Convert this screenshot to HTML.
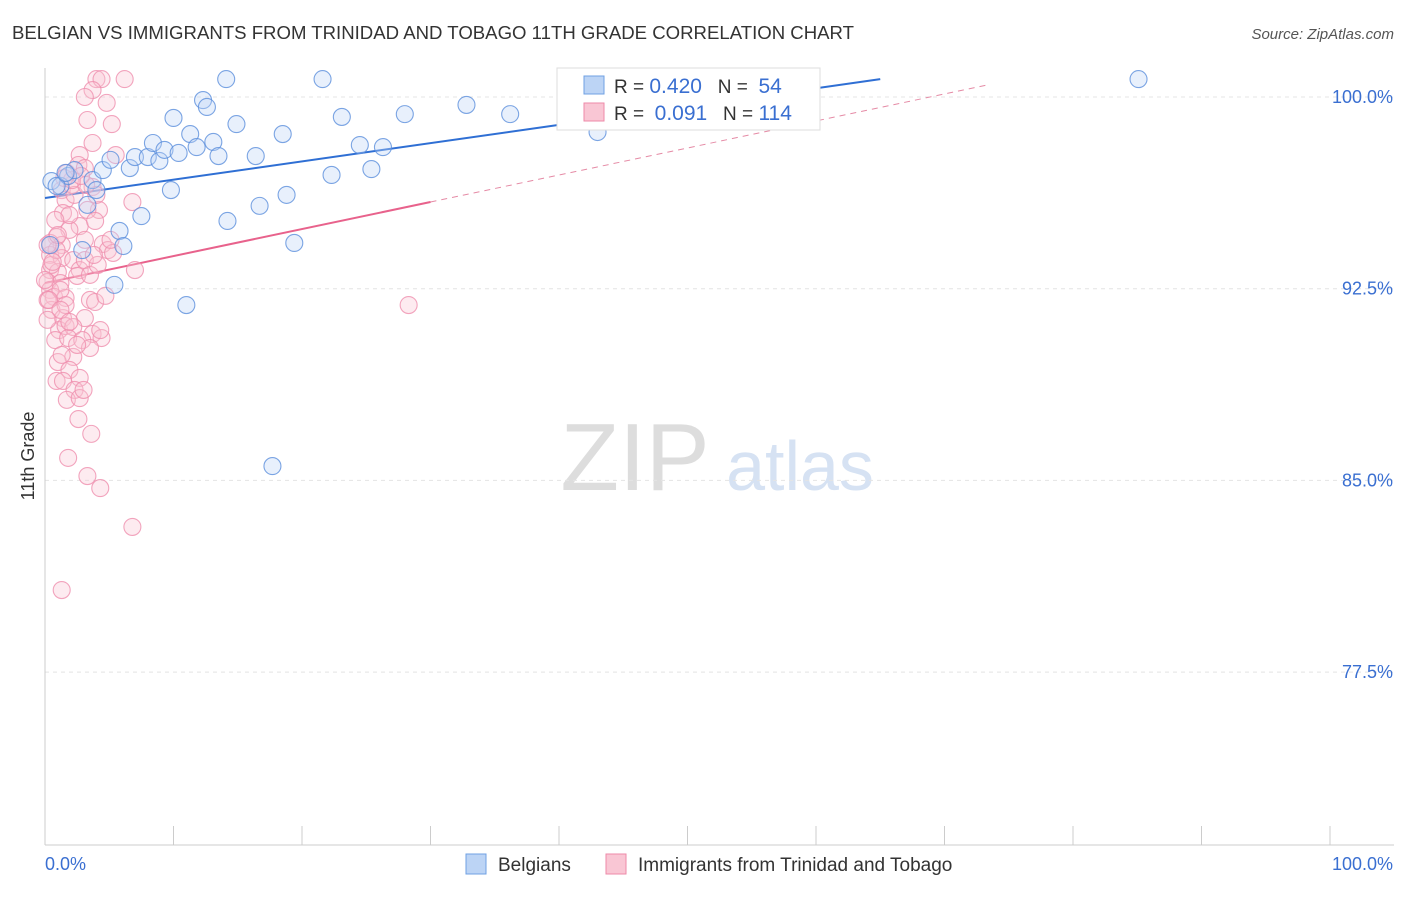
<!DOCTYPE html>
<html><head><meta charset="utf-8"><style>
body{margin:0;background:#fff;font-family:"Liberation Sans",sans-serif}
svg text{font-family:"Liberation Sans",sans-serif}
</style></head><body>
<svg id="c" width="1406" height="892">
<text x="12" y="39" font-size="18.6" fill="#333">BELGIAN VS IMMIGRANTS FROM TRINIDAD AND TOBAGO 11TH GRADE CORRELATION CHART</text>
<text x="1394" y="39" font-size="15" fill="#555" text-anchor="end" font-style="italic">Source: ZipAtlas.com</text>
<text x="34" y="456" font-size="18" fill="#333" text-anchor="middle" transform="rotate(-90 34 456)">11th Grade</text>
<g><text x="635" y="490" font-size="96" fill="#ddd" font-family="Liberation Serif" text-anchor="middle">ZIP</text><text x="800" y="490" font-size="70" fill="#d6e2f3" text-anchor="middle">atlas</text></g>
<g id="grid"></g><g id="axes"></g><g id="lines"></g><g id="pts"></g>
<g>
<rect x="557" y="68" width="263" height="62" fill="#fff" stroke="#ddd"/>
<rect x="584" y="76" width="20" height="18" fill="#bcd4f5" stroke="#6fa0e3"/>
<text x="614" y="93" font-size="19" fill="#333" xml:space="preserve">R = <tspan fill="#3a6fd1" font-size="21">0.420</tspan>   N =  <tspan fill="#3a6fd1" font-size="21">54</tspan></text>
<rect x="584" y="103" width="20" height="18" fill="#f9c6d4" stroke="#ee8aa8"/>
<text x="614" y="120" font-size="19" fill="#333" xml:space="preserve">R =  <tspan fill="#3a6fd1" font-size="21">0.091</tspan>   N = <tspan fill="#3a6fd1" font-size="21">114</tspan></text>
</g>
<g>
<rect x="466" y="854" width="20" height="20" fill="#bcd4f5" stroke="#6fa0e3"/>
<text x="498" y="871" font-size="19" fill="#333">Belgians</text>
<rect x="606" y="854" width="20" height="20" fill="#f9c6d4" stroke="#ee8aa8"/>
<text x="638" y="871" font-size="19" fill="#333">Immigrants from Trinidad and Tobago</text>
</g>
</svg>
<script>
const yTicks=[100,92.5,85,77.5];
const yTickLabels=["100.0%","92.5%","85.0%","77.5%"];
const xTicks=[0,10,20,30,40,50,60,70,80,90,100];
const blueX=[0.5,1.2,1.8,2.3,3.7,4.0,4.5,5.1,6.6,7.0,8.0,8.4,8.9,9.3,9.8,10.0,10.4,11.3,11.8,12.3,12.6,13.1,13.5,14.1,14.9,14.2,16.4,16.7,18.5,18.8,19.4,21.6,22.3,23.1,24.5,25.4,26.3,28.0,32.8,36.2,43.0,52.1,85.1,3.3,5.8,6.1,2.9,5.4,11.0,7.5,17.7,0.9,0.4,1.6];
const blueY=[96.71,96.52,96.91,97.14,96.75,96.36,97.14,97.54,97.22,97.65,97.65,98.20,97.50,97.93,96.36,99.18,97.81,98.55,98.04,99.88,99.61,98.24,97.69,100.70,98.94,95.15,97.69,95.74,98.55,96.17,94.29,100.70,96.95,99.22,98.12,97.18,98.04,99.33,99.69,99.33,98.63,100.70,100.70,95.78,94.76,94.17,94.01,92.65,91.86,95.34,85.56,96.52,94.21,97.03];
const pinkX=[4.0,4.4,6.2,3.7,3.1,4.8,5.2,3.3,3.7,2.7,5.5,1.7,2.6,3.1,1.3,2.1,3.7,1.6,4.2,6.8,1.4,3.3,2.7,3.9,1.9,3.1,0.9,0.4,1.3,4.5,4.9,5.3,0.4,1.3,2.2,2.7,7.0,0.4,1.0,0.2,1.2,2.5,0.4,0.7,1.6,3.5,3.9,4.7,0.5,1.4,3.1,1.1,1.6,2.2,3.7,4.4,0.8,1.8,2.9,3.5,2.2,1.0,1.9,2.7,0.9,1.4,2.3,1.7,2.7,2.6,3.6,1.8,3.3,4.3,6.8,1.3,28.3,0.2,0.5,0.9,1.2,1.6,1.9,2.3,4.3,3.1,3.5,0.0,0.2,0.8,1.0,4.0,3.2,2.1,1.5,2.8,0.6,0.3,1.2,1.9,2.5,1.3,3.0,4.1,5.1,0.2,3.8];
const pinkY=[100.70,100.70,100.70,100.27,100.00,99.77,98.94,99.10,98.20,97.73,97.73,97.03,97.34,97.22,96.36,96.56,96.48,95.97,95.58,95.89,95.46,95.58,94.95,95.15,94.80,94.41,94.52,94.29,94.21,94.25,94.01,93.90,93.82,93.70,93.62,93.23,93.23,93.23,93.15,92.76,92.72,93.00,92.45,92.18,92.14,92.06,91.98,92.22,91.67,91.35,91.35,90.88,91.04,91.00,90.73,90.57,90.49,90.57,90.49,90.18,89.83,89.63,89.32,89.01,88.89,88.89,88.54,88.15,88.22,87.40,86.82,85.88,85.17,84.70,83.18,80.71,91.86,92.06,93.43,94.01,92.45,91.86,95.38,96.17,90.88,93.62,93.04,92.84,94.21,95.19,94.60,96.17,96.56,96.75,96.83,96.91,93.55,92.06,91.67,91.20,90.30,89.91,88.54,93.43,94.41,91.28,93.82];
const blueFit=[96.05,0.0715]; const pinkFit=[92.72,0.1057];
const xs=v=>45+v*12.85, ys=v=>97+(100-v)*25.56;
const NS="http://www.w3.org/2000/svg";
function mk(t,a,p){const e=document.createElementNS(NS,t);for(const k in a)e.setAttribute(k,a[k]);document.getElementById(p).appendChild(e);return e;}
yTicks.forEach((v,i)=>{const l=mk('line',{x1:45,x2:1394,y1:ys(v),y2:ys(v),stroke:'#e4e4e4','stroke-dasharray':'4,4'},'grid');


const t=mk('text',{x:1393,y:ys(v)+6,'font-size':18,fill:'#3a6fd1','text-anchor':'end'},'grid');t.textContent=yTickLabels[i];

});
const ax=mk('line',{x1:45,x2:1394,y1:845,y2:845,stroke:'#ccc'},'axes');


const ay=mk('line',{x1:45,x2:45,y1:68,y2:845,stroke:'#ccc'},'axes');


xTicks.forEach(v=>{const l=mk('line',{x1:xs(v),x2:xs(v),y1:826,y2:845,stroke:'#ccc'},'axes');

});
const t0=mk('text',{x:45,y:870,'font-size':18,fill:'#3a6fd1'},'axes');t0.textContent='0.0%';


const t1=mk('text',{x:1393,y:870,'font-size':18,fill:'#3a6fd1','text-anchor':'end'},'axes');t1.textContent='100.0%';


function pts(X,Y,f,s,n){X.forEach((x,i)=>{const c=mk('circle',{cx:xs(x),cy:ys(Y[i]),r:8.5,fill:f,'fill-opacity':0.35,stroke:s,'stroke-opacity':0.8,'stroke-width':1.1},'pts');

});}
pts(pinkX,pinkY,'#f9c6d4','#ef8fae','point-trinidad');
pts(blueX,blueY,'#bcd4f5','#5b8fdc','point-belgian');
function ln(fit,x0,x1,col,dash,n){const a={x1:xs(x0),y1:ys(fit[0]+fit[1]*x0),x2:xs(x1),y2:ys(fit[0]+fit[1]*x1),stroke:col,'stroke-width':dash?1:2};if(dash)a['stroke-dasharray']='6,5';const l=mk('line',a,'lines');

}
ln(blueFit,0,65,'#2f6fd4',false,'trend-belgian');
ln(pinkFit,30,73.2,'#e58aa5',true,'trend-trinidad-extension');
ln(pinkFit,0,30,'#e8628c',false,'trend-trinidad');
</script>
</body></html>
